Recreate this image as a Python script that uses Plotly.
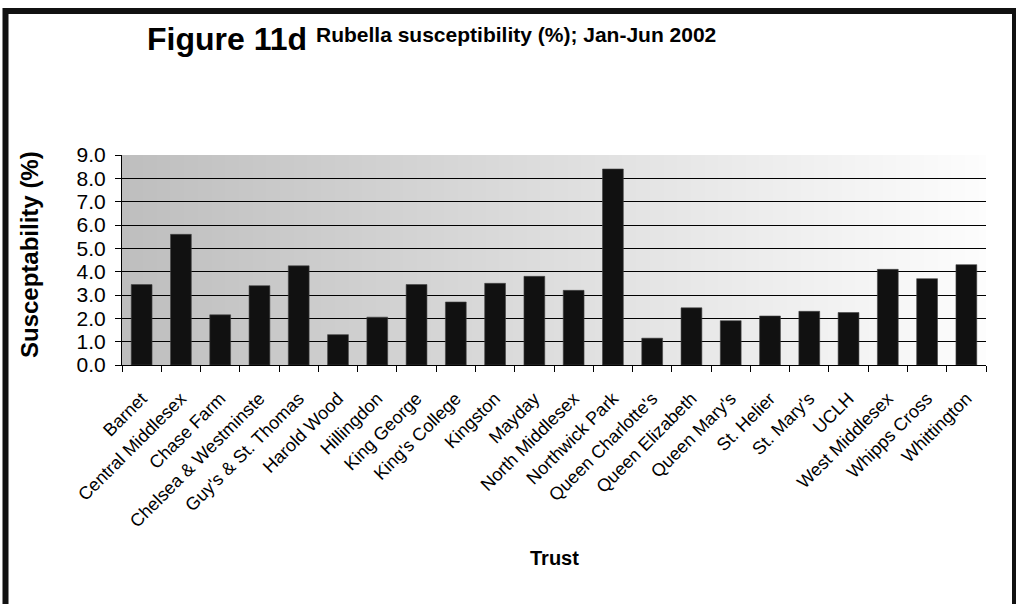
import base64
import struct
import zlib

import plotly.graph_objects as go

# ---- data ----
trusts = [
    "Barnet", "Central Middlesex", "Chase Farm", "Chelsea & Westminste",
    "Guy's & St. Thomas", "Harold Wood", "Hillingdon", "King George",
    "King's College", "Kingston", "Mayday", "North Middlesex",
    "Northwick Park", "Queen Charlotte's", "Queen Elizabeth", "Queen Mary's",
    "St. Helier", "St. Mary's", "UCLH", "West Middlesex", "Whipps Cross",
    "Whittington",
]
susceptibility = [
    3.45, 5.6, 2.15, 3.4, 4.25, 1.3, 2.05, 3.45, 2.7, 3.5, 3.8, 3.2,
    8.4, 1.15, 2.45, 1.9, 2.1, 2.3, 2.25, 4.1, 3.7, 4.3,
]
y_ticks = [0, 1, 2, 3, 4, 5, 6, 7, 8, 9]

# ---- layout geometry (pixels) ----
W, H = 1016, 604
L, R, T, B = 122, 30, 155, 239
PW, PH = W - L - R, H - T - B


def px(xp):
    return (xp - L) / PW


def py(yp):
    return (H - B - yp) / PH


# ---- horizontal grey gradient background as a tiny PNG ----
def gradient_png(width, left, right):
    row = bytes(int(round(left + (right - left) * i / (width - 1))) for i in range(width))
    raw = b"\x00" + row

    def chunk(tag, data):
        c = tag + data
        return struct.pack(">I", len(data)) + c + struct.pack(">I", zlib.crc32(c) & 0xFFFFFFFF)

    png = b"\x89PNG\r\n\x1a\n"
    png += chunk(b"IHDR", struct.pack(">IIBBBBB", width, 1, 8, 0, 0, 0, 0))
    png += chunk(b"IDAT", zlib.compress(raw))
    png += chunk(b"IEND", b"")
    return "data:image/png;base64," + base64.b64encode(png).decode()


FONT = "Liberation Sans, Arial, sans-serif"

fig = go.Figure(
    go.Bar(
        x=trusts,
        y=susceptibility,
        marker=dict(color="#111111", line=dict(color="#444444", width=0.6)),
        hoverinfo="skip",
    )
)

fig.update_layout(
    width=W,
    height=H,
    margin=dict(l=L, r=R, t=T, b=B),
    paper_bgcolor="white",
    plot_bgcolor="rgba(0,0,0,0)",
    showlegend=False,
    bargap=0.47,
    font=dict(family=FONT, color="black"),
    images=[
        dict(
            source=gradient_png(PW, 190, 253),
            xref="paper", yref="paper", x=0, y=1, sizex=1, sizey=1,
            xanchor="left", yanchor="top", sizing="stretch", layer="below",
        )
    ],
    shapes=[
        dict(
            type="rect", xref="paper", yref="paper",
            x0=px(5.5), x1=px(1015), y0=py(640), y1=py(11),
            line=dict(color="#111111", width=6), fillcolor="rgba(0,0,0,0)",
        )
    ],
    annotations=[
        dict(text="<b>Figure 11d</b>", xref="paper", yref="paper",
             x=px(145), y=py(39), xanchor="left", yanchor="middle",
             showarrow=False, font=dict(size=32, family=FONT, color="black")),
        dict(text="<b>Rubella susceptibility (%); Jan-Jun 2002</b>", xref="paper", yref="paper",
             x=px(314), y=py(34), xanchor="left", yanchor="middle",
             showarrow=False, font=dict(size=21, family=FONT, color="black")),
        dict(text="<b>Trust</b>", xref="paper", yref="paper",
             x=0.5, y=py(557.5), xanchor="center", yanchor="middle",
             showarrow=False, font=dict(size=20, family=FONT, color="black")),
        dict(text="<b>Susceptability (%)</b>", xref="paper", yref="paper",
             x=px(29), y=py(255), xanchor="center", yanchor="middle", textangle=-90,
             showarrow=False, font=dict(size=24, family=FONT, color="black")),
    ],
)

fig.update_xaxes(
    type="category",
    showline=True, linecolor="black", linewidth=1,
    ticks="outside", tickson="boundaries", ticklen=6, tickcolor="black", tickwidth=1,
    tickangle=-45,
    ticklabelstandoff=15,
    tickfont=dict(size=18, family=FONT, color="black"),
    showgrid=False,
)
fig.update_yaxes(
    range=[0, 9],
    tickvals=y_ticks,
    tickformat=".1f",
    showline=True, linecolor="black", linewidth=1,
    ticks="outside", ticklen=6, tickcolor="black", tickwidth=1,
    ticklabelstandoff=5,
    tickfont=dict(size=21, family=FONT, color="black"),
    showgrid=True, gridcolor="black", gridwidth=1,
    zeroline=False,
)

fig.write_html("out.html", config={"displayModeBar": False, "staticPlot": True})
